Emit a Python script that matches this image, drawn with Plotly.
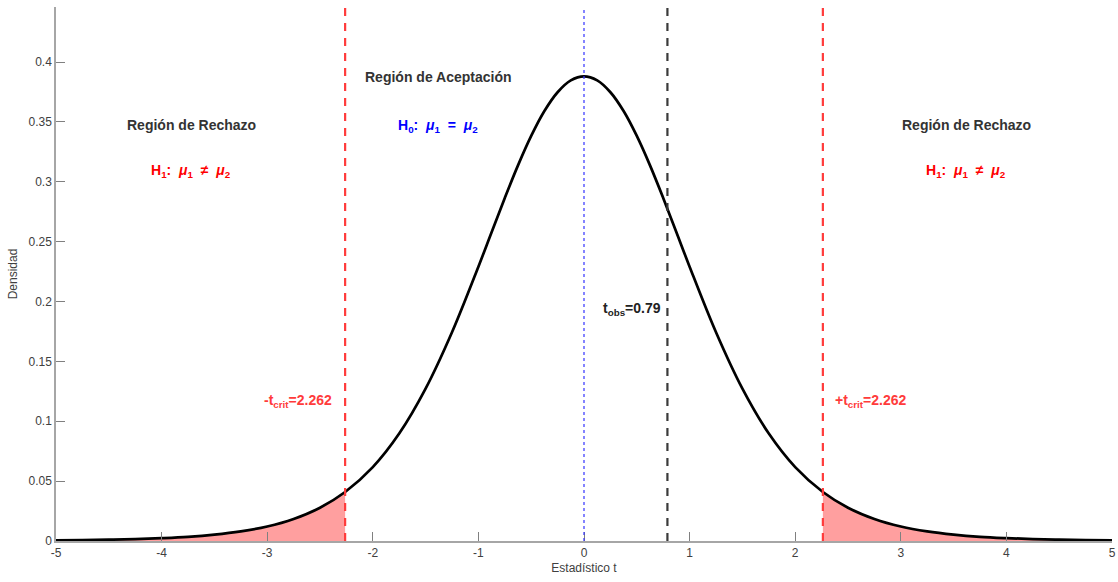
import plotly.graph_objects as go

# t statistic grid and density values (df = 9 curve)
t_vals = [-5.0, -4.75, -4.5, -4.25, -4.0, -3.75, -3.5, -3.25, -3.0, -2.75, -2.5, -2.262,
          -2.0, -1.75, -1.5, -1.25, -1.0, -0.875, -0.75, -0.625, -0.5, -0.375, -0.25, -0.125, 0.0,
          0.125, 0.25, 0.375, 0.5, 0.625, 0.75, 0.875, 1.0, 1.25, 1.5, 1.75, 2.0, 2.262,
          2.5, 2.75, 3.0, 3.25, 3.5, 3.75, 4.0, 4.25, 4.5, 4.75, 5.0]
density = [0.0005, 0.0007, 0.0011, 0.0016, 0.0024, 0.0035, 0.0053, 0.0080, 0.0121, 0.0184, 0.0278, 0.0409,
           0.0617, 0.0897, 0.1272, 0.1743, 0.2291, 0.2579, 0.2865, 0.3137, 0.3383, 0.3591, 0.3748, 0.3847, 0.3880,
           0.3847, 0.3748, 0.3591, 0.3383, 0.3137, 0.2865, 0.2579, 0.2291, 0.1743, 0.1272, 0.0897, 0.0617, 0.0409,
           0.0278, 0.0184, 0.0121, 0.0080, 0.0053, 0.0035, 0.0024, 0.0016, 0.0011, 0.0007, 0.0005]

t_crit = 2.262
t_obs = 0.79
y_top = 0.446

x_ticks = [-5, -4, -3, -2, -1, 0, 1, 2, 3, 4, 5]
x_tick_text = ["-5", "-4", "-3", "-2", "-1", "0", "1", "2", "3", "4", "5"]
y_ticks = [0, 0.05, 0.1, 0.15, 0.2, 0.25, 0.3, 0.35, 0.4]
y_tick_text = ["0", "0.05", "0.1", "0.15", "0.2", "0.25", "0.3", "0.35", "0.4"]

FONT = "Liberation Sans, Arial, sans-serif"
RED = "#ff3b3b"
FILL = "#ff9f9f"

fig = go.Figure()

left_x = [t for t in t_vals if t <= -t_crit]
left_y = [d for t, d in zip(t_vals, density) if t <= -t_crit]
right_x = [t for t in t_vals if t >= t_crit]
right_y = [d for t, d in zip(t_vals, density) if t >= t_crit]

for xs, ys in [(left_x, left_y), (right_x, right_y)]:
    fig.add_trace(go.Scatter(x=xs, y=ys, mode="lines", fill="tozeroy",
                             line=dict(color="#b05050", width=0.6, shape="spline"),
                             fillcolor=FILL, hoverinfo="skip", showlegend=False))

fig.add_trace(go.Scatter(x=t_vals, y=density, mode="lines",
                         line=dict(color="black", width=2.7, shape="spline"),
                         showlegend=False))

# vertical reference lines
fig.add_shape(type="line", x0=-t_crit, x1=-t_crit, y0=0, y1=y_top, xref="x", yref="y",
              line=dict(color=RED, width=2.2, dash="8px,7px"))
fig.add_shape(type="line", x0=t_crit, x1=t_crit, y0=0, y1=y_top, xref="x", yref="y",
              line=dict(color=RED, width=2.2, dash="8px,7px"))
fig.add_shape(type="line", x0=t_obs, x1=t_obs, y0=0, y1=y_top, xref="x", yref="y",
              line=dict(color="#3a3a3a", width=2.2, dash="8px,7px"))
fig.add_shape(type="line", x0=0, x1=0, y0=0, y1=y_top, xref="x", yref="y",
              line=dict(color="#3333ff", width=1.2, dash="dot"))

NB = "\u00a0"
h1 = f"H<sub>1</sub>:{NB}{NB}<i>μ</i><sub>1</sub>{NB}{NB}≠{NB}{NB}<i>μ</i><sub>2</sub>"
h0 = f"H<sub>0</sub>:{NB}{NB}<i>μ</i><sub>1</sub>{NB}{NB}={NB}{NB}<i>μ</i><sub>2</sub>"

annots = [
    dict(x=-3.72, y=0.3475, text="<b>Región de Rechazo</b>", color="#333333", xanchor="center"),
    dict(x=-3.72, y=0.309, text=f"<b>{h1}</b>", color="red", xanchor="center"),
    dict(x=-1.38, y=0.3875, text="<b>Región de Aceptación</b>", color="#333333", xanchor="center"),
    dict(x=-1.38, y=0.347, text=f"<b>{h0}</b>", color="blue", xanchor="center"),
    dict(x=3.62, y=0.3475, text="<b>Región de Rechazo</b>", color="#333333", xanchor="center"),
    dict(x=3.62, y=0.309, text=f"<b>{h1}</b>", color="red", xanchor="center"),
    dict(x=t_obs - 0.04, y=0.194, text=f"<b>t<sub>obs</sub>={t_obs}</b>", color="#222222", xanchor="right"),
    dict(x=-t_crit - 0.11, y=0.117, text=f"<b>-t<sub>crit</sub>={t_crit}</b>", color=RED, xanchor="right"),
    dict(x=t_crit + 0.1, y=0.117, text=f"<b>+t<sub>crit</sub>={t_crit}</b>", color=RED, xanchor="left"),
]
for a in annots:
    fig.add_annotation(x=a["x"], y=a["y"], text=a["text"], showarrow=False,
                       xanchor=a["xanchor"], yanchor="middle",
                       font=dict(family=FONT, size=14, color=a["color"]))

axis_common = dict(showline=True, linecolor="#a6a6a6", linewidth=1.5, ticks="inside",
                   ticklen=9, tickcolor="#808080", tickwidth=1, showgrid=False, zeroline=False,
                   tickfont=dict(family=FONT, size=12, color="#404040"), mirror=False,
                   automargin=False)

fig.update_layout(
    width=1118, height=582,
    margin=dict(l=56, r=6, t=7, b=41),
    plot_bgcolor="white", paper_bgcolor="white",
    xaxis=dict(range=[-5, 5], tickmode="array", tickvals=x_ticks, ticktext=x_tick_text,
               title=dict(text="Estadístico t", font=dict(family=FONT, size=12, color="#404040"), standoff=4),
               **axis_common),
    yaxis=dict(range=[0, y_top], tickmode="array", tickvals=y_ticks, ticktext=y_tick_text,
               title=dict(text="Densidad", font=dict(family=FONT, size=12, color="#404040"), standoff=8),
               **axis_common),
)

fig.write_html("out.html")
